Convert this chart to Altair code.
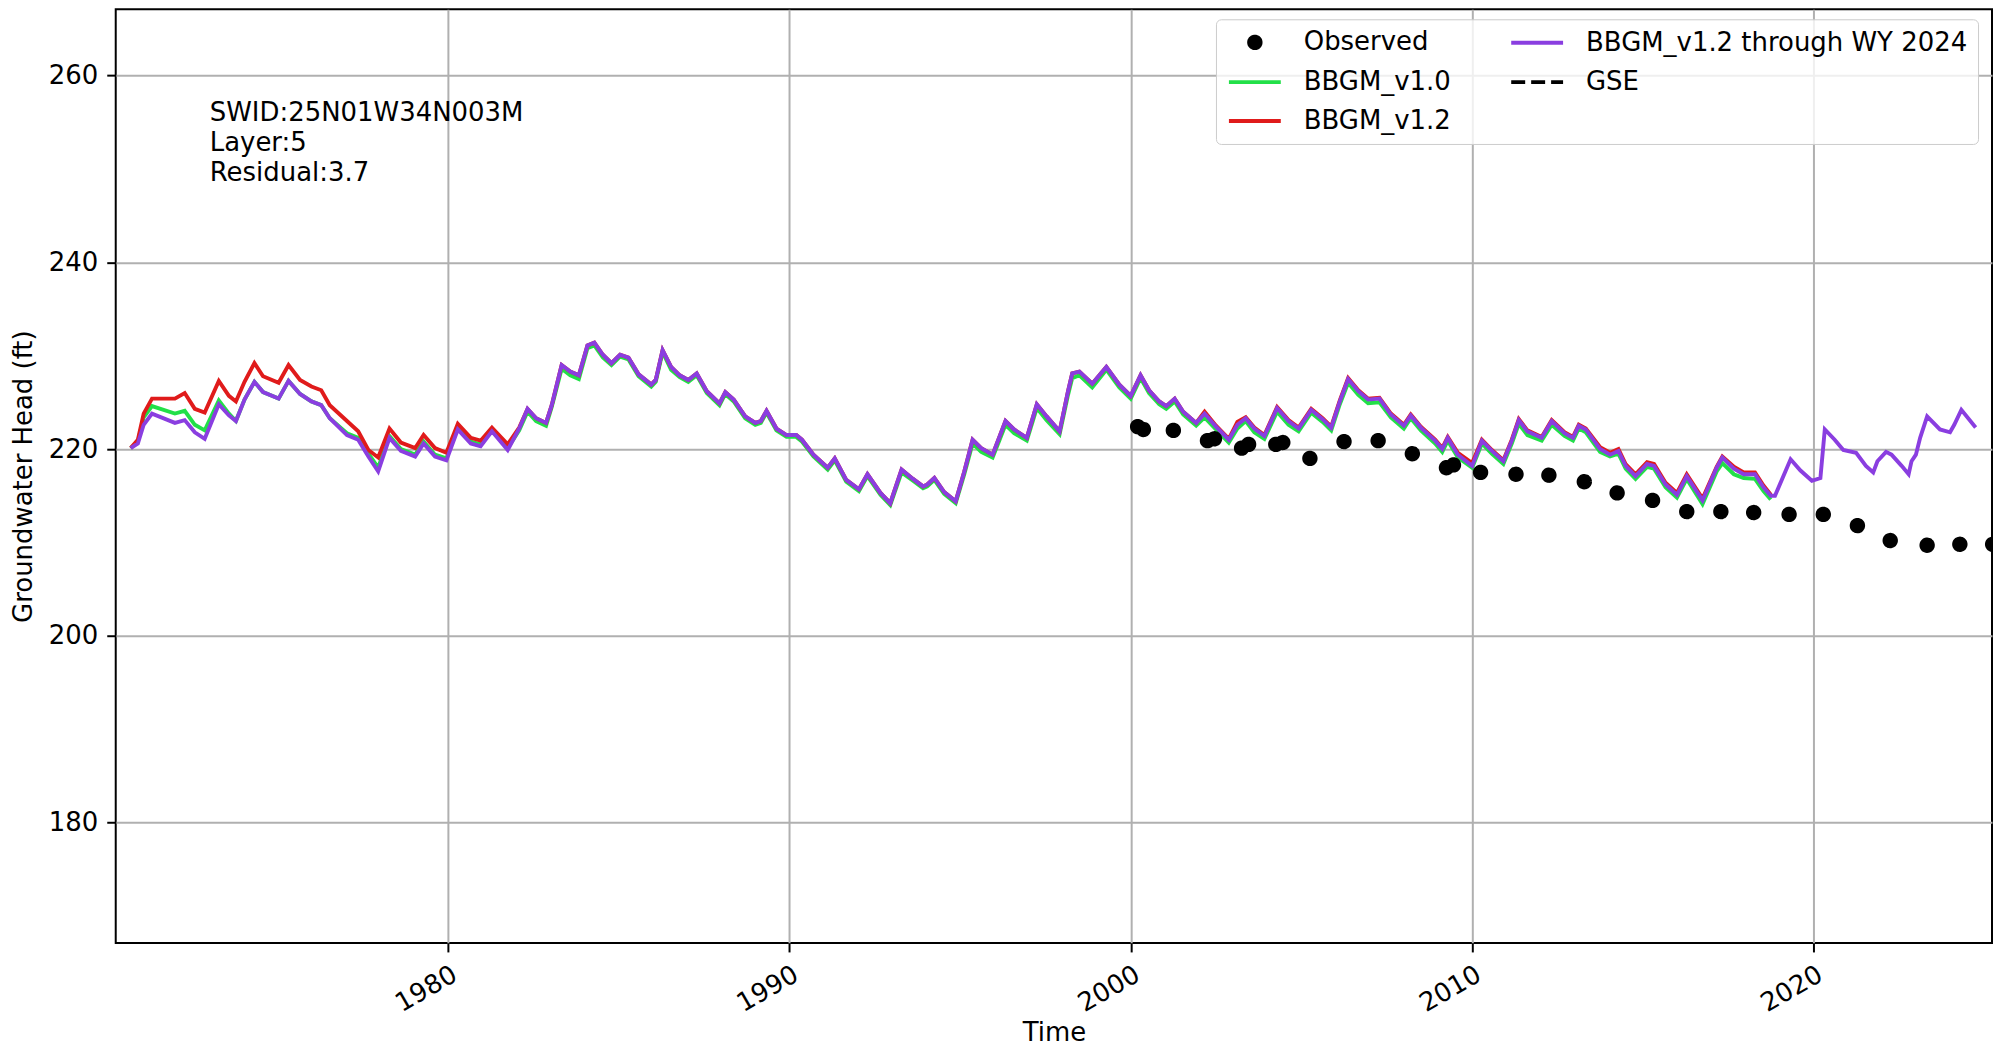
import altair as alt
import pandas as pd

OBS = "Observed"
V10 = "BBGM_v1.0"
V12 = "BBGM_v1.2"
THRU = "BBGM_v1.2 through WY 2024"
GSE = "GSE"

# legend order (filled column by column, 2 columns)
legend_order = [OBS, V10, V12, THRU, GSE]
legend_colors = ["#000000", "#22e048", "#e01b1b", "#8a3ee0", "#000000"]
circle_path = "M0,-0.57A0.57,0.57,0,1,1,0,0.57A0.57,0.57,0,1,1,0,-0.57Z"
line_path = "M-2.6,0H2.6"
legend_shapes = [circle_path, line_path, line_path, line_path, line_path]
legend_dashes = [[1, 0], [1, 0], [1, 0], [1, 0], [14, 6]]

model_dates = [
    "1970-09-15", "1970-12-01", "1971-02-01", "1971-05-01", "1972-01-01", "1972-04-15", "1972-08-01", "1972-11-15",
    "1973-04-15", "1973-08-01", "1973-10-15", "1974-01-15", "1974-05-01", "1974-08-01", "1975-01-15", "1975-05-01",
    "1975-09-01", "1976-01-01", "1976-04-15", "1976-07-15", "1977-01-15", "1977-05-15", "1977-09-01", "1977-12-15",
    "1978-04-15", "1978-08-15", "1979-01-15", "1979-04-15", "1979-08-15", "1979-12-15", "1980-04-15", "1980-09-01",
    "1980-12-15", "1981-04-15", "1981-10-01", "1982-02-01",
    "1982-05-01", "1982-08-01", "1982-11-15", "1983-01-15", "1983-05-01", "1983-08-01", "1983-11-01", "1984-02-01",
    "1984-04-15", "1984-07-15", "1984-10-15", "1985-01-15", "1985-04-15", "1985-08-01", "1985-12-15", "1986-02-01",
    "1986-04-15", "1986-07-15", "1986-10-15", "1987-01-15", "1987-04-15", "1987-08-01", "1987-12-15", "1988-02-15",
    "1988-05-15", "1988-09-15", "1989-01-01", "1989-03-01", "1989-05-01", "1989-08-15", "1989-12-01", "1990-03-15",
    "1990-05-15", "1990-09-15", "1991-02-15", "1991-05-01", "1991-09-01", "1992-01-15", "1992-04-15", "1992-09-01",
    "1992-12-15", "1993-04-15", "1993-08-15", "1993-12-01", "1994-01-15", "1994-04-01", "1994-07-15", "1994-11-15",
    "1995-02-15", "1995-05-15", "1995-08-15", "1995-12-15", "1996-05-01", "1996-08-01", "1996-12-15", "1997-04-01",
    "1997-07-15", "1997-12-01", "1998-03-01", "1998-04-15", "1998-07-01", "1998-11-15", "1999-04-15", "1999-09-01",
    "2000-01-01", "2000-04-15", "2000-07-15", "2000-11-01", "2001-01-15", "2001-04-15", "2001-07-15", "2001-12-01",
    "2002-03-01", "2002-07-01", "2002-11-15", "2003-02-15", "2003-05-15", "2003-08-15", "2003-12-01", "2004-04-15",
    "2004-08-15", "2004-12-01", "2005-04-15", "2005-08-15", "2005-11-15", "2006-02-15", "2006-05-15", "2006-09-01",
    "2006-12-15", "2007-04-15", "2007-08-15", "2008-01-01", "2008-03-15", "2008-07-01", "2008-12-01", "2009-02-15",
    "2009-04-15", "2009-08-01", "2010-01-01", "2010-04-15", "2010-08-01", "2010-12-01", "2011-03-01", "2011-05-15",
    "2011-08-15", "2012-01-15", "2012-05-01", "2012-09-15", "2012-12-15", "2013-02-15", "2013-05-01", "2013-10-01",
    "2014-01-15", "2014-04-15", "2014-07-01", "2014-10-15", "2015-02-15", "2015-05-01", "2015-09-01", "2016-01-01",
    "2016-04-15", "2016-10-01", "2017-03-01", "2017-05-01", "2017-09-01", "2017-12-15", "2018-04-15", "2018-07-15",
    "2018-10-01",
]

v12_values = [
    220.1, 221.0, 223.8, 225.4, 225.4, 226.0, 224.3, 223.9,
    227.3, 225.7, 225.1, 227.2, 229.2, 227.8, 227.1, 229.0,
    227.4, 226.7, 226.3, 224.7, 223.0, 221.9, 219.9, 219.1,
    222.2, 220.7, 220.1, 221.5, 220.1, 219.6, 222.7, 221.2,
    220.9, 222.3, 220.5, 222.3,
    224.3, 223.3, 222.8, 224.7, 229.0, 228.3, 227.9, 231.1,
    231.4, 230.1, 229.2, 230.1, 229.8, 228.0, 226.9, 227.4,
    230.6, 228.8, 227.9, 227.4, 228.1, 226.2, 224.9, 226.1,
    225.3, 223.5, 222.8, 223.0, 224.1, 222.2, 221.5, 221.5,
    221.0, 219.4, 218.0, 219.0, 216.7, 215.7, 217.3, 215.3,
    214.2, 217.8, 216.8, 216.0, 216.2, 216.9, 215.4, 214.4,
    217.6, 221.0, 220.1, 219.4, 223.0, 222.1, 221.2, 224.8,
    223.5, 221.9, 226.2, 228.1, 228.3, 227.0, 228.8, 226.9,
    225.7, 227.9, 226.3, 225.1, 224.6, 225.4, 224.0, 222.8,
    224.0, 222.5, 221.1, 222.9, 223.4, 222.3, 221.5, 224.5,
    223.1, 222.3, 224.3, 223.3, 222.4, 225.2, 227.6, 226.3,
    225.4, 225.5, 223.8, 222.6, 223.7, 222.4, 221.0, 220.1,
    221.3, 219.6, 218.5, 221.0, 219.9, 218.8, 221.0, 223.2,
    222.0, 221.3, 223.1, 221.8, 221.3, 222.6, 222.2, 220.2,
    219.6, 220.0, 218.4, 217.3, 218.6, 218.4, 216.4, 215.3,
    217.3, 214.7, 218.1, 219.2, 218.1, 217.5, 217.5, 216.1,
    215.1,
]

v10_values = [
    220.1, 220.8, 223.4, 224.6, 223.8, 224.1, 222.6, 222.0,
    225.2, 223.8, 223.0, 225.3, 227.2, 226.1, 225.4, 227.3,
    225.9, 225.1, 224.7, 223.3, 221.7, 221.2, 219.5, 218.0,
    221.4, 220.0, 219.4, 220.8, 219.4, 219.0, 222.3, 220.8,
    220.5, 222.0, 220.1, 222.0,
    224.0, 223.0, 222.5, 224.5, 228.6, 227.9, 227.5, 230.8,
    231.1, 229.8, 229.0, 229.9, 229.6, 227.8, 226.7, 227.2,
    230.4, 228.5, 227.7, 227.2, 227.9, 226.0, 224.7, 225.9,
    225.1, 223.3, 222.6, 222.8, 223.9, 222.0, 221.3, 221.3,
    220.8, 219.2, 217.8, 218.8, 216.5, 215.5, 217.1, 215.1,
    214.0, 217.5, 216.6, 215.8, 216.0, 216.7, 215.2, 214.2,
    217.3, 220.6, 219.7, 219.1, 222.6, 221.7, 220.9, 224.4,
    223.1, 221.6, 225.8, 227.6, 227.9, 226.6, 228.5, 226.6,
    225.4, 227.6, 226.0, 224.8, 224.3, 225.1, 223.7, 222.5,
    223.4, 222.1, 220.7, 222.2, 223.0, 221.8, 221.1, 224.0,
    222.6, 221.9, 223.9, 222.9, 222.0, 224.8, 227.1, 225.8,
    224.9, 225.0, 223.4, 222.2, 223.3, 222.0, 220.6, 219.7,
    220.9, 219.1, 218.0, 220.6, 219.5, 218.4, 220.6, 222.7,
    221.5, 220.9, 222.6, 221.4, 220.9, 222.2, 221.8, 219.7,
    219.2, 219.5, 217.9, 216.8, 218.1, 217.9, 215.9, 214.8,
    216.8, 214.1, 217.6, 218.5, 217.3, 216.9, 216.8, 215.5,
    214.6,
]

thru_values = [
    220.1, 220.6, 222.6, 223.8, 222.8, 223.1, 221.8, 221.1,
    224.8, 223.6, 223.0, 225.3, 227.2, 226.1, 225.4, 227.3,
    225.9, 225.1, 224.7, 223.3, 221.5, 221.0, 219.2, 217.6,
    221.2, 219.8, 219.2, 220.6, 219.2, 218.8, 222.1, 220.6,
    220.3, 221.9, 219.9, 222.2,
    224.3, 223.3, 222.8, 224.7, 229.0, 228.3, 227.9, 231.1,
    231.4, 230.1, 229.2, 230.1, 229.8, 228.0, 226.9, 227.4,
    230.6, 228.8, 227.9, 227.4, 228.1, 226.2, 224.9, 226.1,
    225.3, 223.5, 222.8, 223.0, 224.1, 222.2, 221.5, 221.5,
    221.0, 219.4, 218.0, 219.0, 216.7, 215.7, 217.3, 215.3,
    214.2, 217.8, 216.8, 216.0, 216.2, 216.9, 215.4, 214.4,
    217.6, 221.0, 220.1, 219.4, 223.0, 222.1, 221.2, 224.8,
    223.5, 221.9, 226.2, 228.1, 228.3, 227.0, 228.8, 226.9,
    225.7, 227.9, 226.3, 225.1, 224.6, 225.4, 224.0, 222.8,
    223.8, 222.4, 221.0, 222.6, 223.3, 222.2, 221.4, 224.4,
    223.0, 222.2, 224.2, 223.2, 222.3, 225.1, 227.5, 226.2,
    225.3, 225.4, 223.7, 222.5, 223.6, 222.3, 220.9, 220.0,
    221.2, 219.4, 218.2, 220.9, 219.8, 218.7, 220.9, 223.1,
    221.9, 221.2, 223.0, 221.7, 221.2, 222.5, 222.1, 220.0,
    219.4, 219.8, 218.2, 217.1, 218.4, 218.2, 216.2, 215.1,
    217.1, 214.5, 218.0, 219.1, 217.9, 217.3, 217.3, 215.9,
    215.0,
]

thru_ext_dates = [
    "2018-11-15", "2019-05-01", "2019-08-15", "2019-12-15", "2020-03-15", "2020-05-01", "2020-08-15", "2020-11-15",
    "2021-04-01", "2021-07-15", "2021-10-01", "2021-11-15", "2022-02-15", "2022-04-15", "2022-08-01", "2022-10-15",
    "2022-11-15", "2023-01-01", "2023-02-15", "2023-05-01", "2023-09-15", "2024-01-01", "2024-02-15", "2024-05-01",
    "2024-10-01",
]
thru_ext_values = [
    215.0, 218.9, 217.7, 216.6, 216.9, 222.1, 221.0, 219.9,
    219.6, 218.2, 217.5, 218.7, 219.7, 219.4, 218.2, 217.3,
    218.7, 219.4, 221.2, 223.5, 222.1, 221.8, 222.6, 224.2,
    222.3,
]

obs_dates = [
    "2000-03-15", "2000-05-15", "2001-04-01", "2002-04-01", "2002-06-15", "2003-04-01", "2003-06-15", "2004-04-01",
    "2004-06-15", "2005-04-01", "2006-04-01", "2007-04-01", "2008-04-01", "2009-04-01", "2009-06-15", "2010-04-01",
    "2011-04-15", "2012-04-01", "2013-04-15", "2014-04-01", "2015-04-15", "2016-04-15", "2017-04-15", "2018-04-01",
    "2019-04-15", "2020-04-15", "2021-04-15", "2022-04-01", "2023-05-01", "2024-04-15", "2025-04-01",
]
obs_values = [
    222.4, 222.1, 222.0, 220.9, 221.1, 220.1, 220.5, 220.5,
    220.7, 219.0, 220.8, 220.9, 219.5, 218.0, 218.3, 217.5,
    217.3, 217.2, 216.5, 215.3, 214.5, 213.3, 213.3, 213.2,
    213.0, 213.0, 211.8, 210.2, 209.7, 209.8, 209.8,
]

annotation = "SWID:25N01W34N003M\nLayer:5\nResidual:3.7"
x_ticks = [1980, 1990, 2000, 2010, 2020]
y_ticks = [180, 200, 220, 240, 260]
y_domain = [167.1, 267.1]

FONT = "DejaVu Sans"

df_v10 = pd.DataFrame({"date": model_dates, "value": v10_values, "series": V10})
df_v12 = pd.DataFrame({"date": model_dates, "value": v12_values, "series": V12})
df_thru = pd.DataFrame({"date": model_dates + thru_ext_dates,
                        "value": thru_values + thru_ext_values, "series": THRU})
df_obs = pd.DataFrame({"date": obs_dates, "value": obs_values, "series": OBS})
df_text = pd.DataFrame({"date": ["1973-01-08"], "value": [y_domain[0] + 0.903 * (y_domain[1] - y_domain[0])],
                        "label": [annotation]})

x_enc = alt.X(
    "date:T",
    scale=alt.Scale(domain=[alt.DateTime(year=1970, month=4, date=8),
                            alt.DateTime(year=2025, month=3, date=25)]),
    axis=alt.Axis(values=[alt.DateTime(year=y, month=1, date=1) for y in x_ticks],
                  format="%Y", labelAngle=330, labelAlign="right", labelBaseline="top",
                  title="Time", titlePadding=3),
)
y_enc = alt.Y(
    "value:Q",
    scale=alt.Scale(domain=y_domain, nice=False, zero=False),
    axis=alt.Axis(values=y_ticks, title="Groundwater Head (ft)", titlePadding=12),
)

line_scale = alt.Scale(domain=[V10, V12, THRU],
                       range=[legend_colors[1], legend_colors[2], legend_colors[3]])


def model_layer(df):
    return alt.Chart(df).mark_line(strokeWidth=3.9, clip=True).encode(
        x=x_enc, y=y_enc,
        color=alt.Color("series:N", scale=line_scale, legend=None),
    )


leg = alt.Legend(
    title=None, orient="none", legendX=1103, legendY=10, columns=2,
    padding=10, fillColor="rgba(255,255,255,0.8)", strokeColor="#cccccc", cornerRadius=5,
    labelFont=FONT, labelFontSize=26, labelColor="black", labelLimit=700, labelOffset=36,
    symbolSize=400, symbolStrokeWidth=4, symbolOpacity=1, symbolOffset=16,
    columnPadding=52, rowPadding=13,
)

points = alt.Chart(df_obs).mark_point(size=400, strokeWidth=4, opacity=1, clip=True).encode(
    x=x_enc, y=y_enc,
    fill=alt.Fill("series:N", scale=alt.Scale(domain=legend_order, range=legend_colors), legend=leg),
    stroke=alt.Stroke("series:N", scale=alt.Scale(domain=legend_order, range=legend_colors), legend=leg),
    shape=alt.Shape("series:N", scale=alt.Scale(domain=legend_order, range=legend_shapes), legend=leg),
    strokeDash=alt.StrokeDash("series:N", scale=alt.Scale(domain=legend_order, range=legend_dashes), legend=leg),
)

text = alt.Chart(df_text).mark_text(
    align="left", baseline="top", font=FONT, fontSize=26, lineBreak="\n", lineHeight=30, color="black"
).encode(x=x_enc, y=y_enc, text="label:N")

chart = alt.layer(
    model_layer(df_v10), model_layer(df_v12), model_layer(df_thru), points, text
).properties(
    width=1881, height=936,
    autosize=alt.AutoSizeParams(type="none"),
    padding={"left": 108, "top": 0, "right": 1, "bottom": 106},
).configure_view(
    stroke="black", strokeWidth=2
).configure_axis(
    labelFont=FONT, labelFontSize=26, labelColor="black",
    titleFont=FONT, titleFontSize=26, titleFontWeight="normal", titleColor="black",
    tickColor="black", tickSize=9, tickWidth=2, labelPadding=9,
    grid=True, gridColor="#b0b0b0", gridWidth=2, domain=False,
)

chart.save("out.html", embed_options={"renderer": "svg", "actions": False})
